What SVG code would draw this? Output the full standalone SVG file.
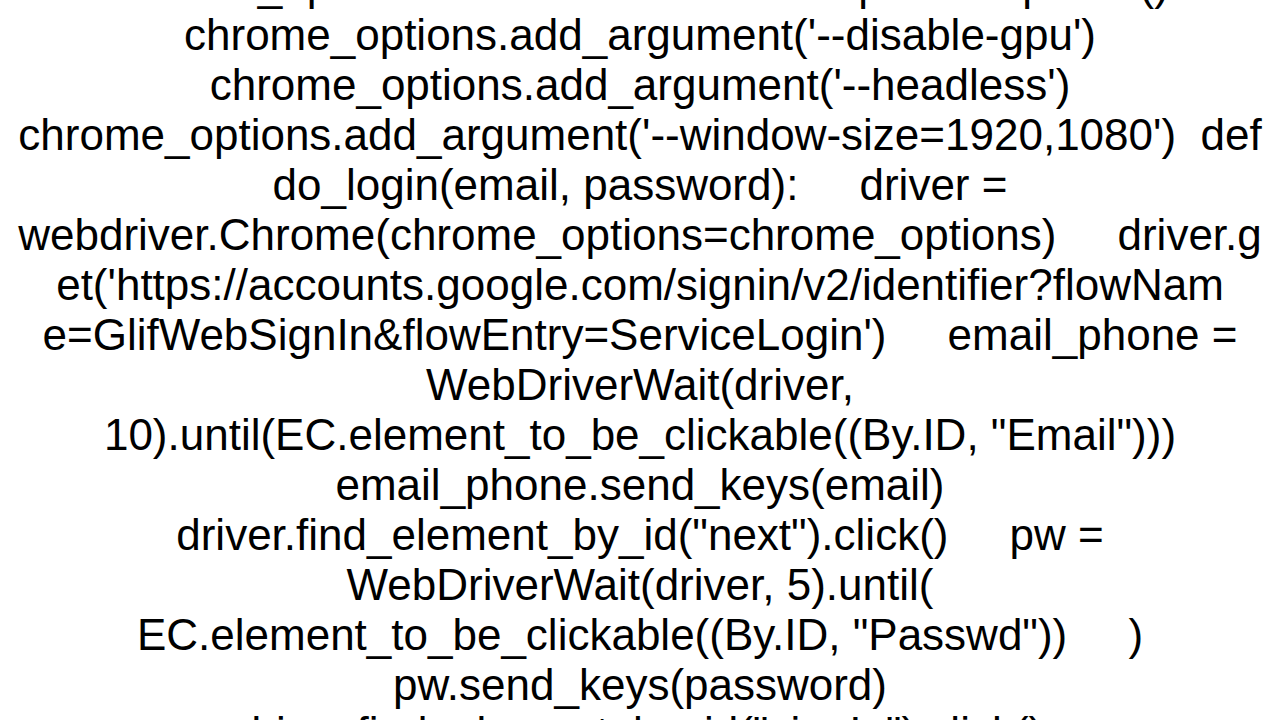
<svg xmlns="http://www.w3.org/2000/svg" width="1280" height="720" viewBox="0 0 1280 720">
<style>text{font-family:"Liberation Sans",Arial,sans-serif;font-size:44px;fill:#000;text-anchor:middle;white-space:pre}</style>
<rect width="1280" height="720" fill="#fff"/>
<g id="code" xml:space="preserve">
<text x="640" y="0">chrome_options = webdriver.chrome.options.Options()</text>
<text x="640" y="50">chrome_options.add_argument('--disable-gpu')</text>
<text x="640" y="100">chrome_options.add_argument('--headless')</text>
<text x="640" y="150">chrome_options.add_argument('--window-size=1920,1080')  def</text>
<text x="640" y="200">do_login(email, password):     driver =</text>
<text x="640" y="250">webdriver.Chrome(chrome_options=chrome_options)     driver.g</text>
<text x="640" y="300">et('https://accounts.google.com/signin/v2/identifier?flowNam</text>
<text x="640" y="350">e=GlifWebSignIn&amp;flowEntry=ServiceLogin')     email_phone =</text>
<text x="640" y="400">WebDriverWait(driver,</text>
<text x="640" y="450">10).until(EC.element_to_be_clickable((By.ID, "Email")))</text>
<text x="640" y="500">email_phone.send_keys(email)</text>
<text x="640" y="550">driver.find_element_by_id("next").click()     pw =</text>
<text x="640" y="600">WebDriverWait(driver, 5).until(</text>
<text x="640" y="650">EC.element_to_be_clickable((By.ID, "Passwd"))     )</text>
<text x="640" y="700">pw.send_keys(password)</text>
<text x="640" y="748">driver.find_element_by_id("signIn").click()</text>
</g>
</svg>
